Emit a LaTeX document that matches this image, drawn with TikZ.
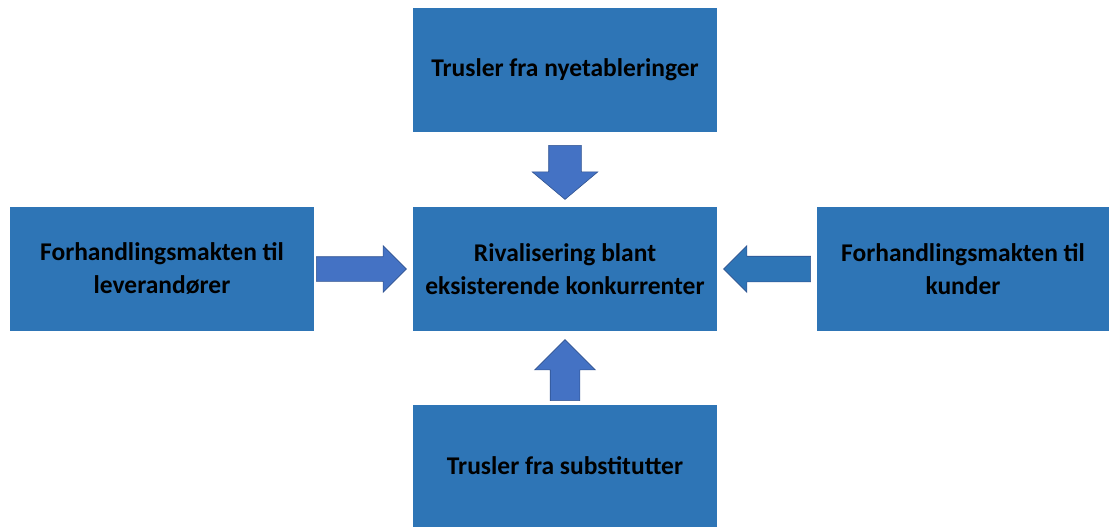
\documentclass[tikz,border=0pt]{standalone}
\usepackage{fontspec}
\setmainfont{Carlito}
\usetikzlibrary{shapes.arrows,calc}

\definecolor{boxblue}{HTML}{2E75B6}
\definecolor{arrowblue}{HTML}{4472C4}
\definecolor{arrowline}{HTML}{2F528F}

\begin{document}
\begin{tikzpicture}
[
    x=1pt, y=-1pt,
    force/.style={fill=boxblue, text=black, align=center, inner sep=0pt,
        font=\bfseries\fontsize{25.5}{33}\selectfont,
        minimum width=304pt, minimum height=124pt},
    pointer/.style={single arrow, draw=arrowline, fill=arrowblue, line width=0.6pt,
        minimum width=0pt, anchor=tip},
]
\useasboundingbox (0,0) rectangle (1109,527);

\node [force] (threat) at (565,70) {Trusler fra nyetableringer};
\node [force] (rivalry) at (565,269) {Rivalisering blant\\eksisterende konkurrenter};
\node [force] (supplier) at (162,269) {Forhandlingsmakten til\\leverandører};
\node [force, minimum width=292pt] (buyer) at (963,269) {Forhandlingsmakten til\\kunder};
\node [force, minimum height=122pt] (substitute) at (565,466) {Trusler fra substitutter};

% block arrows into the middle box
\node [pointer, shape border rotate=270, inner sep=16pt, single arrow head extend=16.5pt,
    single arrow tip angle=100, minimum height=54pt]
    (threatarrow) at ($(rivalry.north)+(0,-7)$) {};
\node [pointer, shape border rotate=0, inner sep=12pt, single arrow head extend=11pt,
    minimum height=90pt]
    (supplierarrow) at ($(rivalry.west)+(-6,0)$) {};
\node [pointer, fill=boxblue, shape border rotate=180, inner sep=12.5pt, single arrow head extend=10.5pt,
    minimum height=87pt]
    (buyerarrow) at ($(rivalry.east)+(6,0)$) {};
\node [pointer, shape border rotate=90, inner sep=14.5pt, single arrow head extend=15.5pt,
    minimum height=61pt]
    (substitutearrow) at ($(rivalry.south)+(0,8)$) {};
\end{tikzpicture}
\end{document}
